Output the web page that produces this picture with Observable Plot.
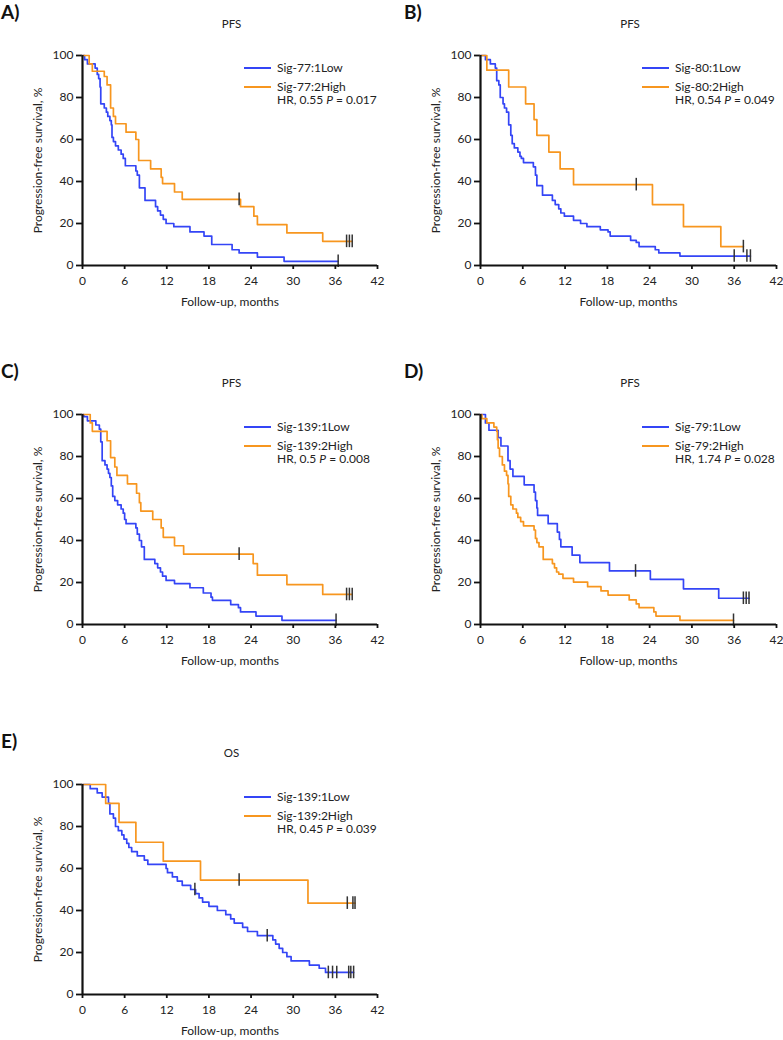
<!DOCTYPE html>
<html>
<head>
<meta charset="utf-8">
<script src="https://cdn.jsdelivr.net/npm/d3@7"></script>
<script src="https://cdn.jsdelivr.net/npm/@observablehq/plot@0.6"></script>
<style>
  html, body { margin: 0; padding: 0; background: #fff; }
  #fig { position: relative; width: 783px; height: 1040px; background: #fff; font-family: Lato, "Open Sans", sans-serif; color: #222; overflow: hidden; }
  .abs { position: absolute; white-space: nowrap; }
  .letter { font-weight: bold; font-size: 19px; line-height: 22px; color: #111; }
  .ttl { font-size: 11.5px; line-height: 14px; transform: translateX(-50%); }
  .lg { font-size: 12px; line-height: 13px; }
  .sw { position: absolute; height: 2px; }
</style>
</head>
<body>
<div id="fig"></div>
<script>
// ---------- axis ticks ----------
const xTicks = [0, 6, 12, 18, 24, 30, 36, 42];
const yTicks = [0, 20, 40, 60, 80, 100];
const colorLow = "#3445f6";
const colorHigh = "#f7961f";

// ---------- Panel A (PFS, Sig-77) ----------
const A_low_time = [0,0.3,0.7,1.8,2.1,2.3,2.5,2.6,3.1,3.4,3.6,3.9,4.1,4.2,4.4,4.7,5.1,5.5,5.8,6.1,7.6,7.8,8.1,8.9,10.4,10.7,11.1,11.5,11.9,13.0,15.3,17.3,18.4,21.3,22.3,24.9,28.7,36.4];
const A_low_surv = [100,98,96,94,91,89,85,77,75,73,71,69,67,61,59,57,55,53,51,47.5,45,43,37,31,28,26,24,22,20,18.5,16,14,10,7.5,6,4,2,2];
const A_low_cens = [36.4];
const A_high_time = [0,0.95,1.4,3.1,3.5,4.0,4.4,4.7,6.2,7.6,8.0,9.7,11.2,11.4,13.1,14.2,22.5,24.4,24.9,29.1,34.2,38.4];
const A_high_surv = [100,96,92.5,90,86,75,71,67.5,63.5,60,50,46,42,39,35,31.5,28,23.5,19.5,15.5,11.5,11.5];
const A_high_cens = [22.3,37.6,38.0,38.4];

// ---------- Panel B (PFS, Sig-80) ----------
const B_low_time = [0,0.7,1.4,2.1,2.3,2.6,2.8,3.2,3.4,3.7,4.0,4.3,4.5,4.8,5.3,5.6,5.8,6.1,7.5,7.8,8.0,8.8,10.2,10.6,11.1,11.4,11.9,13.2,14.2,15.1,17.0,18.1,18.4,21.3,22.1,22.5,24.8,25.3,28.3,38.3];
const B_low_surv = [100,98,96,94,88,86,80,77,75,73,67,62,58,56,54,52,51,49,47,43,38,33.5,31,29,27,25,23.5,21.5,20,18.5,17,16,14,12,11,9,7.5,6,4.5,4.5];
const B_low_cens = [36.0,37.8,38.3];
const B_high_time = [0,0.9,4.0,6.4,7.6,8.0,9.7,11.3,13.2,24.4,28.8,34.1,37.3];
const B_high_surv = [100,93,85,77,69.5,62,54,46,38.5,29,18.5,9,9];
const B_high_cens = [22.1,37.3];

// ---------- Panel C (PFS, Sig-139) ----------
const C_low_time = [0,0.2,0.7,1.9,2.4,2.6,2.8,3.2,3.5,3.7,3.9,4.1,4.3,4.6,5.0,5.5,5.8,6.0,6.2,7.6,7.8,8.1,8.4,8.8,10.3,10.7,11.1,11.4,11.9,13.1,15.3,17.2,18.3,18.5,21.1,22.2,22.5,24.7,28.4,36.1];
const C_low_surv = [100,99,97,95,93,87,78,76,74,72,70,66,61,59,57,55,53,50,48,46,43,40,37,31,29,27,25,23,21,19.5,17.5,15,13,11.5,9.5,8,6,4,2,2];
const C_low_cens = [36.1];
const C_high_time = [0,1.1,1.4,3.5,4.0,4.6,4.9,6.4,7.7,8.1,8.3,10.0,11.2,11.5,13.1,14.4,24.3,24.9,29.1,34.2,38.4];
const C_high_surv = [100,96,92,87.5,79.5,75,71,67,62.5,58,54,50,46,41.5,37.5,33.5,29,23.5,19,14.3,14.3];
const C_high_cens = [22.3,37.6,38.0,38.4];

// ---------- Panel D (PFS, Sig-79) ----------
const D_low_time = [0,0.7,1.2,2.5,2.9,3.9,4.2,4.6,6.2,7.6,7.8,8.0,8.1,9.6,10.9,11.2,11.4,13.0,14.1,18.3,24.1,28.8,33.8,38.1];
const D_low_surv = [100,96,92.5,89,85,78,74,70.5,66.5,63,59,55.5,52,48,44,40.5,37,33,29.5,25.5,21.5,17,12.5,12.5];
const D_low_cens = [22.0,37.3,37.7,38.1];
const D_high_time = [0,0.2,0.9,1.9,2.3,2.4,2.5,2.7,3.1,3.4,3.7,3.9,4.0,4.3,4.6,5.1,5.3,5.7,6.1,7.6,7.8,8.0,8.3,8.9,10.2,10.5,10.8,11.1,11.7,13.2,15.2,17.1,18.1,21.1,22.1,22.5,24.6,24.9,28.3,35.9];
const D_high_surv = [100,98,96,94,92,88,84,80,76,73,71,67,61,57,55,53,51,49,47,45,41,39,37,31,29,27,25,24,22,20.2,18,16,14,11.7,9.8,8,6,4,2,2];
const D_high_cens = [35.9];

// ---------- Panel E (OS, Sig-139) ----------
const E_low_time = [0,1.1,2.1,2.8,3.7,3.9,4.4,4.7,5.1,5.6,5.9,6.3,6.6,7.0,7.8,8.8,9.3,11.9,12.1,12.8,13.5,14.2,15.4,16.1,16.6,17.1,18.0,19.2,20.4,21.1,21.6,22.8,23.5,24.9,27.1,27.5,28.0,28.5,29.1,29.7,32.3,33.7,34.6,38.6];
const E_low_surv = [100,98,96,94,91,86,84,80,78,76,74,72,70,68,66,64,62,60,58,56,54,52,50,48,46,44,42,40,38,36,34,32,30,28,26,24,22,20,18,16,14,12.5,10.5,10.5];
const E_low_cens = [16.0,26.3,35.0,35.6,36.2,37.9,38.2,38.6];
const E_high_time = [0,3.3,5.2,7.6,11.5,16.8,32.1,38.8];
const E_high_surv = [100,91,82,72.5,63.5,54.5,43.5,43.5];
const E_high_cens = [22.3,37.7,38.5,38.8];

// ---------- text ----------
const panelLetters = ["A)", "B)", "C)", "D)", "E)"];
const panelTitles = ["PFS", "PFS", "PFS", "PFS", "OS"];
const lowNames = ["Sig-77:1Low", "Sig-80:1Low", "Sig-139:1Low", "Sig-79:1Low", "Sig-139:1Low"];
const highNames = ["Sig-77:2High", "Sig-80:2High", "Sig-139:2High", "Sig-79:2High", "Sig-139:2High"];
const hrValues = ["0.55", "0.54", "0.5", "1.74", "0.45"];
const pValues = ["0.017", "0.049", "0.008", "0.028", "0.039"];
const xLabel = "Follow-up, months";
const yLabel = "Progression-free survival, %";

// ---------- layout (options for placement) ----------
const layout = [
  {left: 0,   top: 45,  w: 390, ml: 82, mr: 13},
  {left: 390, top: 45,  w: 393, ml: 90, mr: 7},
  {left: 0,   top: 404, w: 390, ml: 82, mr: 13},
  {left: 390, top: 404, w: 393, ml: 90, mr: 7},
  {left: 0,   top: 774, w: 390, ml: 82, mr: 13}
];
const seriesSets = [
  [A_low_time, A_low_surv, A_low_cens, A_high_time, A_high_surv, A_high_cens],
  [B_low_time, B_low_surv, B_low_cens, B_high_time, B_high_surv, B_high_cens],
  [C_low_time, C_low_surv, C_low_cens, C_high_time, C_high_surv, C_high_cens],
  [D_low_time, D_low_surv, D_low_cens, D_high_time, D_high_surv, D_high_cens],
  [E_low_time, E_low_surv, E_low_cens, E_high_time, E_high_surv, E_high_cens]
];
const H = 265, MT = 10, MB = 45;

function stepTable(times, surv) {
  return times.map((t, i) => ({t, s: surv[i]}));
}
function censTable(cens, times, surv) {
  return cens.map(c => {
    let s = surv[0];
    for (let i = 0; i < times.length; i++) if (times[i] <= c) s = surv[i];
    return {t: c, s};
  });
}

const fig = document.getElementById("fig");
function addDiv(cls, html, left, top) {
  const d = document.createElement("div");
  d.className = "abs " + cls;
  d.innerHTML = html;
  d.style.left = left + "px";
  d.style.top = top + "px";
  fig.appendChild(d);
  return d;
}

layout.forEach((L, i) => {
  const [lt, ls, lc, ht, hs, hc] = seriesSets[i];
  const low = stepTable(lt, ls), high = stepTable(ht, hs);
  const cens = censTable(lc, lt, ls).concat(censTable(hc, ht, hs));
  const svg = Plot.plot({
    width: L.w, height: H,
    marginTop: MT, marginBottom: MB, marginLeft: L.ml, marginRight: L.mr,
    x: {domain: [0, 42]},
    y: {domain: [0, 100]},
    style: {fontFamily: "Lato, 'Open Sans', sans-serif", fontSize: "12px", color: "#222", background: "transparent", overflow: "visible"},
    marks: [
      Plot.axisX({ticks: xTicks, tickSize: 4, tickPadding: 7, strokeWidth: 1.8, stroke: "#111",
        label: xLabel, labelAnchor: "center", labelOffset: 40, labelArrow: "none"}),
      Plot.axisY({ticks: yTicks, tickSize: 6, tickPadding: 3, strokeWidth: 1.8, stroke: "#111",
        label: yLabel, labelAnchor: "center", labelOffset: 49, labelArrow: "none"}),
      Plot.line(low, {x: "t", y: "s", curve: "step-after", stroke: colorLow, strokeWidth: 1.7}),
      Plot.line(high, {x: "t", y: "s", curve: "step-after", stroke: colorHigh, strokeWidth: 1.7}),
      Plot.ruleX(cens, {x: "t", y1: d => d.s - 3, y2: d => d.s + 3, stroke: "#333", strokeWidth: 1.5}),
      Plot.ruleX([0], {stroke: "#111", strokeWidth: 2.2}),
      Plot.ruleY([0], {stroke: "#111", strokeWidth: 2.2})
    ]
  });
  svg.style.position = "absolute";
  svg.style.left = L.left + "px";
  svg.style.top = L.top + "px";
  fig.appendChild(svg);

  const letterX = L.left === 0 ? 1 : L.left + 14;
  addDiv("letter", panelLetters[i], letterX, L.top - 44);
  const plotLeft = L.left + L.ml;
  const plotRight = L.left + L.w - L.mr;
  addDiv("ttl", panelTitles[i], (plotLeft + plotRight) / 2 + 2, L.top - 28);

  const pt = L.top + MT;
  const sw1 = document.createElement("div");
  sw1.className = "sw"; sw1.style.background = colorLow;
  sw1.style.left = (plotLeft + 162) + "px"; sw1.style.top = (pt + 12) + "px"; sw1.style.width = "27px";
  fig.appendChild(sw1);
  const sw2 = document.createElement("div");
  sw2.className = "sw"; sw2.style.background = colorHigh;
  sw2.style.left = (plotLeft + 162) + "px"; sw2.style.top = (pt + 31) + "px"; sw2.style.width = "27px";
  fig.appendChild(sw2);
  addDiv("lg", lowNames[i], plotLeft + 195, pt + 6);
  addDiv("lg", highNames[i] + "<br>HR, " + hrValues[i] + " <i>P</i> = " + pValues[i], plotLeft + 195, pt + 25);
});
</script>
</body>
</html>
